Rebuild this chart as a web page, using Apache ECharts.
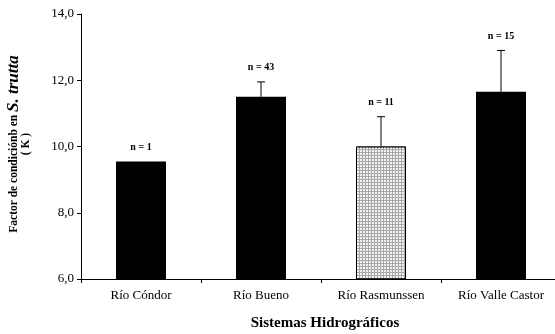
<!DOCTYPE html>
<html><head><meta charset="utf-8">
<script src="https://cdn.jsdelivr.net/npm/echarts@6/dist/echarts.min.js"></script>
<style>html,body{margin:0;padding:0;background:#fff}#c{width:555px;height:334px}</style>
</head><body><div id="c"></div>
<script>
const categories = ['Río Cóndor', 'Río Bueno', 'Río Rasmunssen', 'Río Valle Castor'];
const means = [9.55, 11.5, 10.0, 11.65];
const errors = [0, 0.45, 0.9, 1.25];
const nLabels = ['n = 1', 'n = 43', 'n = 11', 'n = 15'];
const yTicks = [6, 8, 10, 12, 14];

const serif = '"Liberation Serif", "DejaVu Serif", serif';
const chart = echarts.init(document.getElementById('c'));
chart.setOption({
  animation: false,
  grid: { left: 81, width: 480, top: 14, bottom: 55, outerBoundsMode: 'none', containLabel: false },
  xAxis: {
    type: 'category', data: categories, boundaryGap: true,
    axisLine: { lineStyle: { color: '#000', width: 1 } },
    axisTick: { show: true, length: 4, inside: false, lineStyle: { color: '#000' } },
    axisLabel: { color: '#000', fontFamily: serif, fontSize: 13, margin: 10 },
    name: 'Sistemas Hidrográficos', nameLocation: 'middle', nameGap: 37,
    nameTextStyle: { color: '#000', fontFamily: serif, fontSize: 15, fontWeight: 'bold', padding: [0, 0, 0, 8] }
  },
  yAxis: {
    type: 'value', min: 6, max: 14, interval: 2,
    axisLine: { show: true, lineStyle: { color: '#000', width: 1 } },
    axisTick: { show: true, length: 4, lineStyle: { color: '#000' } },
    splitLine: { show: false },
    axisLabel: { color: '#000', fontFamily: serif, fontSize: 13, margin: 7,
      formatter: v => yTicks.includes(v) ? v.toFixed(1).replace('.', ',') : '' },
    name: 'Factor de condiciónb en {it|S. trutta}\n( K )',
    nameLocation: 'middle', nameRotate: 90, nameGap: 49,
    nameTextStyle: { color: '#000', fontFamily: serif, fontSize: 11.5, fontWeight: 'bold', lineHeight: 12, align: 'center',
      padding: [0, 0, 0, 5],
      rich: { it: { fontFamily: serif, fontSize: 17, fontWeight: 'bold', fontStyle: 'italic', color: '#000' } } }
  },
  series: [
    {
      type: 'bar', barWidth: 50,
      data: means.map((m, i) => ({
        value: m,
        itemStyle: i === 2
          ? { color: '#a8a8a8', borderColor: '#000', borderWidth: 1,
              decal: { symbol: 'rect', symbolSize: 1, dashArrayX: [2, 1], dashArrayY: [2, 1], color: '#f2f2f2' } }
          : { color: '#000' }
      }))
    },
    {
      type: 'custom', z: 5,
      data: means.map((m, i) => [i, m, errors[i], nLabels[i]]),
      renderItem: (params, api) => {
        const x = api.value(0), m = api.value(1), e = api.value(2);
        const base = api.coord([x, m]);
        const top = api.coord([x, m + e]);
        const children = [];
        if (e > 0) {
          children.push({ type: 'line', shape: { x1: base[0], y1: base[1], x2: top[0], y2: top[1] }, style: { stroke: '#000', lineWidth: 1 } });
          children.push({ type: 'line', shape: { x1: top[0] - 4, y1: top[1], x2: top[0] + 4, y2: top[1] }, style: { stroke: '#000', lineWidth: 1 } });
        }
        children.push({ type: 'text', x: top[0], y: top[1] - 14,
          style: { text: nLabels[params.dataIndex], fontFamily: serif, fontSize: 10, fontWeight: 'bold', fill: '#000', align: 'center', verticalAlign: 'middle' } });
        return { type: 'group', children };
      }
    }
  ]
});
</script></body></html>
